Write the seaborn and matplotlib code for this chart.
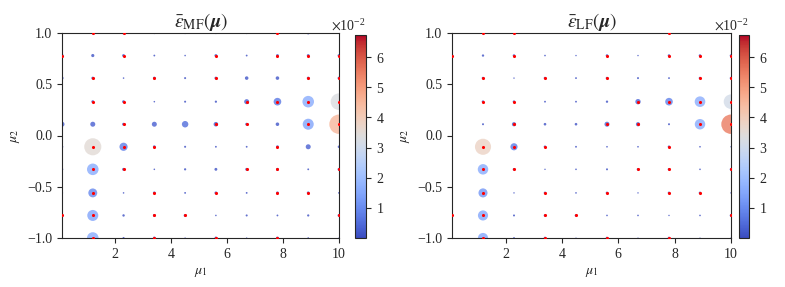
import numpy as np
import pandas as pd
import matplotlib
matplotlib.use("Agg")
import matplotlib.pyplot as plt
from matplotlib.colors import Normalize
from matplotlib.ticker import ScalarFormatter
import seaborn as sns

# grid of parameters
mu1_vals = [0.1, 1.2, 2.3, 3.4, 4.5, 5.6, 6.7, 7.8, 8.9, 10.0]
mu2_vals = [1.0, 0.78, 0.56, 0.33, 0.11, -0.11, -0.33, -0.56, -0.78, -1.0]

# error values (x 1e-2), rows follow mu2_vals, columns follow mu1_vals
err_mf = [
    [0.08, 0.10, 0.10, 0.06, 0.06, 0.06, 0.06, 0.10, 0.10, 0.04],
    [0.12, 0.12, 0.10, 0.04, 0.03, 0.10, 0.04, 0.10, 0.10, 0.10],
    [0.12, 0.10, 0.03, 0.10, 0.05, 0.10, 0.15, 0.15, 0.10, 0.10],
    [0.05, 0.10, 0.10, 0.03, 0.05, 0.06, 0.30, 0.70, 1.60, 3.30],
    [0.30, 0.30, 0.10, 0.30, 0.50, 0.25, 0.10, 0.15, 1.45, 4.50],
    [0.08, 3.50, 0.80, 0.10, 0.05, 0.04, 0.04, 0.10, 0.30, 0.08],
    [0.08, 1.60, 0.10, 0.03, 0.06, 0.10, 0.10, 0.10, 0.04, 0.10],
    [0.06, 0.95, 0.03, 0.10, 0.04, 0.10, 0.04, 0.10, 0.10, 0.04],
    [0.10, 1.45, 0.07, 0.10, 0.10, 0.03, 0.05, 0.04, 0.06, 0.10],
    [0.06, 1.60, 0.05, 0.10, 0.02, 0.10, 0.02, 0.10, 0.03, 0.02],
]
err_lf = [
    [0.08, 0.10, 0.10, 0.04, 0.04, 0.04, 0.04, 0.10, 0.04, 0.04],
    [0.10, 0.08, 0.10, 0.04, 0.03, 0.10, 0.03, 0.10, 0.10, 0.10],
    [0.06, 0.10, 0.03, 0.10, 0.05, 0.10, 0.06, 0.05, 0.10, 0.10],
    [0.05, 0.10, 0.10, 0.05, 0.05, 0.08, 0.42, 0.85, 1.65, 3.10],
    [0.06, 0.06, 0.26, 0.10, 0.10, 0.37, 0.26, 0.06, 1.60, 5.50],
    [0.04, 3.80, 0.75, 0.10, 0.05, 0.04, 0.04, 0.10, 0.04, 0.03],
    [0.05, 1.60, 0.10, 0.03, 0.04, 0.06, 0.10, 0.10, 0.04, 0.10],
    [0.04, 1.20, 0.03, 0.10, 0.04, 0.10, 0.03, 0.10, 0.10, 0.03],
    [0.10, 1.50, 0.06, 0.10, 0.10, 0.04, 0.04, 0.03, 0.04, 0.10],
    [0.05, 1.50, 0.05, 0.10, 0.02, 0.10, 0.02, 0.10, 0.02, 0.02],
]

# training points: column indices per row
train_cols = [
    [1, 2, 7],
    [0, 2, 5, 7, 8, 9],
    [1, 3, 5, 8, 9],
    [1, 2, 6, 7, 8, 9],
    [2, 5, 6, 8, 9],
    [1, 2, 3, 7],
    [1, 2, 6, 7, 9],
    [1, 3, 5, 7, 8],
    [0, 1, 3, 4, 9],
    [1, 3, 5, 7],
]

titles = [r"$\bar{\varepsilon}_{\mathrm{MF}}(\boldsymbol{\mu})$",
          r"$\bar{\varepsilon}_{\mathrm{LF}}(\boldsymbol{\mu})$"]

sns.set_style("ticks")
plt.rcParams["font.family"] = ["serif"]
plt.rcParams["font.serif"] = ["Liberation Serif", "DejaVu Serif"]
plt.rcParams["mathtext.fontset"] = "stix"
plt.rcParams["font.size"] = 10


def grid_df(err):
    rows = []
    for i, y in enumerate(mu2_vals):
        for j, x in enumerate(mu1_vals):
            rows.append({"mu1": x, "mu2": y, "err": err[i][j] * 1e-2})
    return pd.DataFrame(rows)


train_df = pd.DataFrame([{"mu1": mu1_vals[j], "mu2": mu2_vals[i]}
                         for i, cols in enumerate(train_cols) for j in cols])

norm = Normalize(vmin=0.0, vmax=6.73e-2)

fig = plt.figure(figsize=(7.85, 2.87), dpi=100)
W, H = 785, 287
ax_boxes = [(62, 339), (452, 731)]
cbar_boxes = [(355, 366), (739, 749)]
top, bot = 33, 238

for k, err in enumerate([err_mf, err_lf]):
    l, r = ax_boxes[k]
    ax = fig.add_axes([l / W, 1 - bot / H, (r - l) / W, (bot - top) / H])
    df = grid_df(err)
    sns.scatterplot(data=df, x="mu1", y="mu2", hue="err", size="err",
                    palette="coolwarm", hue_norm=norm,
                    sizes=(0, 195), size_norm=(0, df["err"].max()),
                    linewidth=0, alpha=0.8, legend=False, ax=ax, zorder=2)
    sns.scatterplot(data=train_df, x="mu1", y="mu2", color="red", s=5,
                    linewidth=0, ax=ax, zorder=3)
    ax.set_xlim(0.1, 10)
    ax.set_ylim(-1, 1)
    ax.set_xticks([2, 4, 6, 8, 10])
    ax.set_yticks([-1.0, -0.5, 0.0, 0.5, 1.0])
    ax.set_xlabel(r"$\mu_1$")
    ax.set_ylabel(r"$\mu_2$")
    ax.set_title(titles[k], fontsize=14, pad=4)

    cl, cr = cbar_boxes[k]
    cax = fig.add_axes([cl / W, 1 - bot / H, (cr - cl) / W, (bot - 35) / H])
    sm = plt.cm.ScalarMappable(cmap="coolwarm", norm=norm)
    cb = fig.colorbar(sm, cax=cax)
    fmt = ScalarFormatter(useMathText=True)
    fmt.set_powerlimits((0, 0))
    cb.formatter = fmt
    cb.set_ticks([0.01, 0.02, 0.03, 0.04, 0.05, 0.06])
    cb.update_ticks()

fig.savefig("out.png", dpi=100)
